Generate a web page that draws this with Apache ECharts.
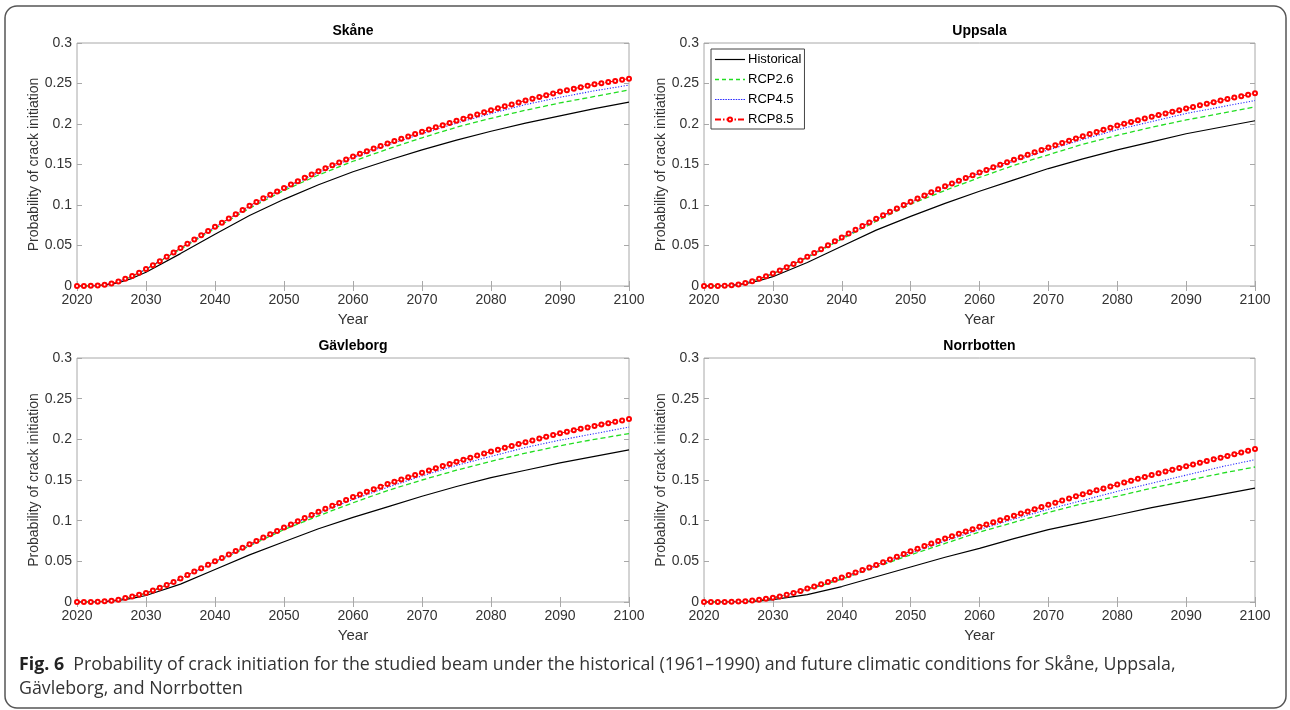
<!DOCTYPE html>
<html><head><meta charset="utf-8">
<script src="https://cdn.jsdelivr.net/npm/echarts@6/dist/echarts.min.js"></script>
<style>html,body{margin:0;padding:0;background:#fff}#c{width:1290px;height:710px}</style>
</head><body><div id="c"></div>
<script>
const regions = ['Skåne', 'Uppsala', 'Gävleborg', 'Norrbotten'];
const seriesNames = ['Historical', 'RCP2.6', 'RCP4.5', 'RCP8.5'];
const xTickLabels = [2020, 2030, 2040, 2050, 2060, 2070, 2080, 2090, 2100];
const yTickLabels = ['0', '0.05', '0.1', '0.15', '0.2', '0.25', '0.3'];
const yearsAnnual = Array.from({length: 81}, (_, i) => 2020 + i);
const yearsCoarse = [2020, 2022, 2024, 2026, 2028, 2030, 2035, 2040, 2045, 2050, 2055, 2060, 2065, 2070, 2075, 2080, 2085, 2090, 2095, 2100];

// Skåne
const skaneHist = [0, 0.0001, 0.001, 0.004, 0.0095, 0.017, 0.040, 0.064, 0.087, 0.107, 0.125, 0.141, 0.155, 0.168, 0.180, 0.191, 0.201, 0.210, 0.219, 0.227];
const skaneRcp26 = [0, 0.0002, 0.0015, 0.0055, 0.0118, 0.0205, 0.0455, 0.071, 0.096, 0.118, 0.137, 0.154, 0.169, 0.183, 0.196, 0.207, 0.217, 0.226, 0.234, 0.242];
const skaneRcp45 = [0, 0.0002, 0.0015, 0.0055, 0.012, 0.0208, 0.0465, 0.0725, 0.098, 0.120, 0.140, 0.158, 0.174, 0.188, 0.201, 0.213, 0.224, 0.233, 0.241, 0.248];
const skaneRcp85 = [0, 0, 0.0002, 0.0006, 0.0015, 0.003, 0.0055, 0.009, 0.0125, 0.0165, 0.021,
  0.0255, 0.0305, 0.036, 0.0415, 0.047, 0.0522, 0.0574, 0.0626, 0.0678, 0.073,
  0.0782, 0.0834, 0.0886, 0.0938, 0.099, 0.1037, 0.1082, 0.1126, 0.1168, 0.121,
  0.1252, 0.1294, 0.1335, 0.1377, 0.1418, 0.1454, 0.1490, 0.1526, 0.1562, 0.160,
  0.1632, 0.1664, 0.1696, 0.1728, 0.176, 0.1789, 0.1818, 0.1847, 0.1876, 0.1905,
  0.1932, 0.1959, 0.1986, 0.2013, 0.204, 0.2066, 0.2092, 0.2118, 0.2144, 0.217,
  0.2194, 0.2218, 0.2242, 0.2266, 0.229, 0.2312, 0.2334, 0.2356, 0.2378, 0.240,
  0.2418, 0.2436, 0.2454, 0.2472, 0.249, 0.2504, 0.2518, 0.2532, 0.2546, 0.256];

// Uppsala
const uppsalaHist = [0, 0.0001, 0.0007, 0.003, 0.0065, 0.0115, 0.029, 0.049, 0.069, 0.086, 0.102, 0.117, 0.131, 0.145, 0.157, 0.168, 0.178, 0.188, 0.196, 0.204];
const uppsalaRcp26 = [0, 0.0001, 0.001, 0.0037, 0.0085, 0.015, 0.035, 0.058, 0.080, 0.101, 0.118, 0.134, 0.149, 0.162, 0.175, 0.186, 0.196, 0.205, 0.213, 0.221];
const uppsalaRcp45 = [0, 0.0001, 0.001, 0.0037, 0.0088, 0.0155, 0.036, 0.059, 0.082, 0.103, 0.122, 0.139, 0.154, 0.168, 0.181, 0.193, 0.203, 0.213, 0.221, 0.229];
const uppsalaRcp85 = [0, 0, 0.0001, 0.0004, 0.001, 0.002, 0.0037, 0.006, 0.0088, 0.012, 0.0155,
  0.0192, 0.0231, 0.0271, 0.0314, 0.036, 0.0407, 0.0454, 0.0502, 0.0551, 0.060,
  0.0647, 0.0694, 0.0740, 0.0785, 0.083, 0.0873, 0.0916, 0.0958, 0.0999, 0.104,
  0.1079, 0.1118, 0.1156, 0.1193, 0.123, 0.1265, 0.1299, 0.1333, 0.1367, 0.140,
  0.1433, 0.1465, 0.1497, 0.1529, 0.156, 0.1590, 0.1620, 0.1650, 0.1680, 0.171,
  0.1738, 0.1766, 0.1794, 0.1822, 0.185, 0.1876, 0.1902, 0.1928, 0.1954, 0.198,
  0.2002, 0.2024, 0.2046, 0.2068, 0.209, 0.211, 0.213, 0.215, 0.217, 0.219,
  0.221, 0.223, 0.225, 0.227, 0.229, 0.2308, 0.2326, 0.2344, 0.2362, 0.238];

// Gävleborg
const gavleborgHist = [0, 0.0001, 0.0005, 0.002, 0.0045, 0.008, 0.022, 0.040, 0.058, 0.074, 0.090, 0.104, 0.117, 0.130, 0.142, 0.153, 0.162, 0.171, 0.179, 0.187];
const gavleborgRcp26 = [0, 0.0001, 0.0008, 0.0028, 0.0065, 0.0105, 0.028, 0.048, 0.069, 0.089, 0.106, 0.122, 0.137, 0.150, 0.162, 0.173, 0.183, 0.192, 0.200, 0.207];
const gavleborgRcp45 = [0, 0.0001, 0.0008, 0.0028, 0.0066, 0.011, 0.0285, 0.049, 0.070, 0.091, 0.109, 0.126, 0.141, 0.155, 0.168, 0.179, 0.190, 0.199, 0.207, 0.215];
const gavleborgRcp85 = [0, 0, 0.0001, 0.0003, 0.0008, 0.0015, 0.0029, 0.0048, 0.0068, 0.0088, 0.011,
  0.0141, 0.0174, 0.0209, 0.0247, 0.029, 0.0332, 0.0374, 0.0416, 0.0458, 0.050,
  0.0542, 0.0584, 0.0626, 0.0668, 0.071, 0.0751, 0.0792, 0.0833, 0.0874, 0.0915,
  0.0954, 0.0993, 0.1032, 0.1071, 0.111, 0.1146, 0.1182, 0.1218, 0.1254, 0.129,
  0.1322, 0.1354, 0.1386, 0.1418, 0.145, 0.1478, 0.1506, 0.1534, 0.1562, 0.159,
  0.1617, 0.1644, 0.1671, 0.1698, 0.1725, 0.175, 0.1775, 0.180, 0.1825, 0.185,
  0.1873, 0.1896, 0.1919, 0.1942, 0.1965, 0.1987, 0.2009, 0.2031, 0.2053, 0.2075,
  0.2093, 0.2111, 0.2129, 0.2147, 0.2165, 0.2182, 0.2199, 0.2216, 0.2233, 0.225];

// Norrbotten
const norrbottenHist = [0, 0, 0.0001, 0.0005, 0.0013, 0.003, 0.009, 0.019, 0.031, 0.043, 0.055, 0.066, 0.078, 0.089, 0.098, 0.107, 0.116, 0.124, 0.132, 0.140];
const norrbottenRcp26 = [0, 0, 0.0001, 0.0008, 0.0022, 0.0048, 0.015, 0.028, 0.043, 0.058, 0.072, 0.086, 0.098, 0.110, 0.121, 0.130, 0.140, 0.149, 0.158, 0.166];
const norrbottenRcp45 = [0, 0, 0.0001, 0.0008, 0.0023, 0.005, 0.0155, 0.029, 0.044, 0.060, 0.075, 0.089, 0.102, 0.114, 0.125, 0.136, 0.146, 0.156, 0.166, 0.175];
const norrbottenRcp85 = [0, 0, 0, 0.0001, 0.0002, 0.0005, 0.001, 0.0017, 0.0027, 0.0039, 0.0053,
  0.0069, 0.0088, 0.0111, 0.0136, 0.0165, 0.0192, 0.0219, 0.0246, 0.0273, 0.030,
  0.0331, 0.0362, 0.0393, 0.0424, 0.0455, 0.0489, 0.0523, 0.0557, 0.0591, 0.0625,
  0.0656, 0.0687, 0.0718, 0.0749, 0.078, 0.0809, 0.0838, 0.0867, 0.0896, 0.0925,
  0.0952, 0.0979, 0.1006, 0.1033, 0.106, 0.1087, 0.1114, 0.1141, 0.1168, 0.1195,
  0.1221, 0.1247, 0.1273, 0.1299, 0.1325, 0.1349, 0.1373, 0.1397, 0.1421, 0.1445,
  0.1468, 0.1491, 0.1514, 0.1537, 0.156, 0.1582, 0.1604, 0.1626, 0.1648, 0.167,
  0.1691, 0.1712, 0.1733, 0.1754, 0.1775, 0.1796, 0.1817, 0.1838, 0.1859, 0.188];

const panelData = [
  [skaneHist, skaneRcp26, skaneRcp45, skaneRcp85],
  [uppsalaHist, uppsalaRcp26, uppsalaRcp45, uppsalaRcp85],
  [gavleborgHist, gavleborgRcp26, gavleborgRcp45, gavleborgRcp85],
  [norrbottenHist, norrbottenRcp26, norrbottenRcp45, norrbottenRcp85]
];

const captionBold = 'Fig. 6';
const captionLine1 = 'Probability of crack initiation for the studied beam under the historical (1961–1990) and future climatic conditions for Skåne, Uppsala,';
const captionLine2 = 'Gävleborg, and Norrbotten';

// layout
const gridPos = [
  {left: 77, top: 43, width: 552, height: 243},
  {left: 704, top: 43, width: 551, height: 243},
  {left: 77, top: 358, width: 552, height: 244},
  {left: 704, top: 358, width: 551, height: 244}
];
const FONT = '"Liberation Sans", Arial, Helvetica, sans-serif';
const axisGray = '#a8a8a8';
const textGray = '#333';

const styles = [
  {color: '#000000', lineStyle: {width: 1.2, type: 'solid'}, symbol: 'none'},
  {color: '#22dd22', lineStyle: {width: 1.3, type: [5, 3]}, symbol: 'none'},
  {color: '#2a2aff', lineStyle: {width: 1.1, type: [1.2, 1.6]}, symbol: 'none'},
  {color: '#ff0000', lineStyle: {width: 1, type: [6, 2, 1.5, 2]}, symbol: 'emptyCircle', symbolSize: 4}
];

// legend sample icons (horizontal line patterns)
function dashIcon(on, off, total, th) {
  let d = 'path://';
  for (let x = 0; x < total; x += on + off) {
    const w = Math.min(on, total - x);
    d += 'M' + x + ',0h' + w + 'v' + th + 'h-' + w + 'z';
  }
  return d;
}
const legendIcons = [dashIcon(30, 0, 30, 1.2), dashIcon(4, 3, 30, 1.3), dashIcon(1.5, 1, 30, 1.2), 'inherit'];

const grids = [], xAxes = [], yAxes = [], series = [], graphics = [];
gridPos.forEach((g, p) => {
  grids.push(Object.assign({show: true, borderColor: axisGray, borderWidth: 1, backgroundColor: '#fff', containLabel: false}, g));
  const tick = {show: true, inside: true, length: 5, lineStyle: {color: axisGray}};
  xAxes.push({
    type: 'value', gridIndex: p, min: xTickLabels[0], max: xTickLabels[xTickLabels.length - 1], interval: 10,
    axisLine: {show: false}, axisTick: tick, splitLine: {show: false},
    axisLabel: {fontSize: 14, color: textGray, fontFamily: FONT, margin: 7, formatter: v => String(v)},
    name: 'Year', nameLocation: 'middle', nameGap: 26,
    nameTextStyle: {fontSize: 15, color: textGray, fontFamily: FONT}
  });
  xAxes.push({
    type: 'value', gridIndex: p, position: 'top', min: 2020, max: 2100, interval: 10,
    axisLine: {show: false}, axisTick: tick, splitLine: {show: false}, axisLabel: {show: false}
  });
  yAxes.push({
    type: 'value', gridIndex: p, min: 0, max: 0.3, interval: 0.05,
    axisLine: {show: false}, axisTick: tick, splitLine: {show: false},
    axisLabel: {fontSize: 14, color: textGray, fontFamily: FONT, margin: 5,
      formatter: v => yTickLabels[Math.round(v / 0.05)]},
    name: 'Probability of crack initiation', nameLocation: 'middle', nameGap: 34, nameRotate: 90,
    nameTextStyle: {fontSize: 14, color: textGray, fontFamily: FONT}
  });
  yAxes.push({
    type: 'value', gridIndex: p, position: 'right', min: 0, max: 0.3, interval: 0.05,
    axisLine: {show: false}, axisTick: tick, splitLine: {show: false}, axisLabel: {show: false}
  });
  panelData[p].forEach((vals, s) => {
    const xs = s === 3 ? yearsAnnual : yearsCoarse;
    const st = styles[s];
    series.push({
      type: 'line', name: seriesNames[s], xAxisIndex: 2 * p, yAxisIndex: 2 * p,
      data: vals.map((v, i) => [xs[i], v]),
      smooth: false,
      symbol: st.symbol, symbolSize: st.symbolSize || 0, showSymbol: s === 3,
      itemStyle: {color: st.color, borderWidth: 1.6},
      lineStyle: Object.assign({color: st.color}, st.lineStyle),
      emphasis: {disabled: true}, silent: true, z: 2 + s
    });
  });
  graphics.push({
    type: 'text', x: g.left + g.width / 2, y: g.top - 12,
    style: {text: regions[p], font: 'bold 14px ' + FONT, fill: '#000', align: 'center', verticalAlign: 'middle'}
  });
});

graphics.push({
  type: 'rect', shape: {x: 5, y: 6, width: 1281, height: 702, r: 12},
  style: {fill: 'none', stroke: '#555', lineWidth: 1.5}, silent: true, z: -10
});
const CAPFONT = '"Open Sans", "Noto Sans", sans-serif';
const CAPSIZE = 17.8;
graphics.push({
  type: 'text', x: 19, y: 665,
  style: {
    text: '{b|' + captionBold + '}  ' + captionLine1,
    font: CAPSIZE + 'px ' + CAPFONT, fill: '#333', verticalAlign: 'middle',
    rich: {b: {font: 'bold ' + CAPSIZE + 'px ' + CAPFONT, fill: '#222'}}
  }
});
graphics.push({
  type: 'text', x: 19, y: 689,
  style: {text: captionLine2, font: CAPSIZE + 'px ' + CAPFONT, fill: '#333', verticalAlign: 'middle'}
});

const chart = echarts.init(document.getElementById('c'), null, {renderer: 'canvas'});
chart.setOption({
  animation: false,
  backgroundColor: '#fff',
  grid: grids, xAxis: xAxes, yAxis: yAxes, series: series,
  legend: {
    show: true, orient: 'vertical', left: 711, top: 49,
    data: seriesNames.map((n, i) => ({name: n, icon: legendIcons[i], itemStyle: {color: styles[i].color}})),
    itemWidth: 30, itemHeight: 5, itemGap: 7, padding: [4, 3, 3, 3],
    borderColor: '#444', borderWidth: 1, backgroundColor: '#fff',
    textStyle: {fontSize: 13, color: '#000', fontFamily: FONT, padding: [0, 0, 0, -2]},
    selectedMode: false
  },
  graphic: graphics
});
</script>
</body></html>
